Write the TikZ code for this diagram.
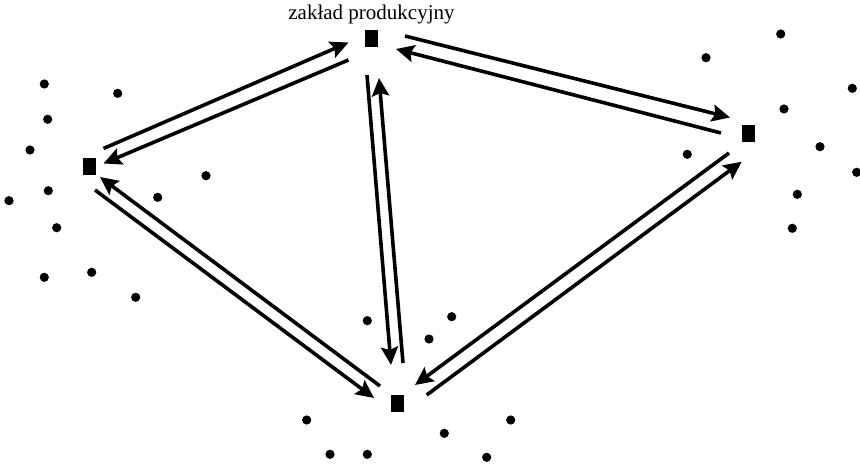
\documentclass[tikz,border=0pt]{standalone}
\usepackage{fontspec}
\setmainfont{Liberation Serif}
\usepackage{tikz}
\usetikzlibrary{arrows.meta}
\tikzset{
  every picture/.style={line join=round, >=Stealth},
  depot/.style={draw=none, fill=black, minimum width=13pt, minimum height=17pt, inner sep=0pt},
  flow/.style={->, line width=3.6pt, line cap=butt},
}

\begin{document}
\begin{tikzpicture}[x=1pt,y=-1pt,>={Stealth[length=18pt,width=17pt,inset=3pt]}]
\useasboundingbox (0,0) rectangle (860,468);
% depots
\node[depot](T) at (371.5,38.5) {};
\node[depot](L) at (89.5,166.5) {};
\node[depot](R) at (748.5,133.5) {};
\node[depot](B) at (397.5,403.5) {};
\node[anchor=base,font=\fontsize{21}{24}\selectfont](lbl) at (371.5,19.5) {zakład produkcyjny};
% customers
\foreach \x/\y in {44.3/84, 117.7/93.3, 47.7/119.3, 30/150, 206/175.7, 48.3/190.7,
  9/200.7, 157.7/197.3, 56.7/227.7, 44.3/277.3, 91.7/272.3, 135.7/297.3,
  780.7/34, 706/57.7, 852.3/88.3, 784/109, 820/146.7, 687.3/154.3, 856.7/172.3,
  797.3/194.3, 792.3/228.3,
  367.3/320.7, 451.7/316.7, 429/339, 306.7/420, 510.7/420, 444.3/433.3,
  330/454.3, 367.3/454.3, 486.7/457.3}
  \fill (\x,\y) circle (4.6);
% routes
\draw[flow]([shift={(14,-18)}]L.center)--([shift={(-23,4)}]T.center);
\draw[flow]([shift={(-23,21.5)}]T.center)--([shift={(14,-3)}]L.center);
\draw[flow]([shift={(33.5,-2.5)}]T.center)--([shift={(-18.5,-16)}]R.center);
\draw[flow]([shift={(-27.5,-0.5)}]R.center)--([shift={(24.5,10.5)}]T.center);
\draw[flow]([shift={(5.5,23.5)}]L.center)--([shift={(-23.5,-5.5)}]B.center);
\draw[flow]([shift={(-17.5,-17.5)}]B.center)--([shift={(10.5,10.5)}]L.center);
\draw[flow]([shift={(-4.5,36.5)}]T.center)--([shift={(-6.5,-38.5)}]B.center);
\draw[flow]([shift={(5.5,-40.5)}]B.center)--([shift={(7.5,39.5)}]T.center);
\draw[flow]([shift={(-19.5,19.5)}]R.center)--([shift={(17.5,-18.5)}]B.center);
\draw[flow]([shift={(29.2,-8.5)}]B.center)--([shift={(-6.8,28.2)}]R.center);
\end{tikzpicture}
\end{document}
